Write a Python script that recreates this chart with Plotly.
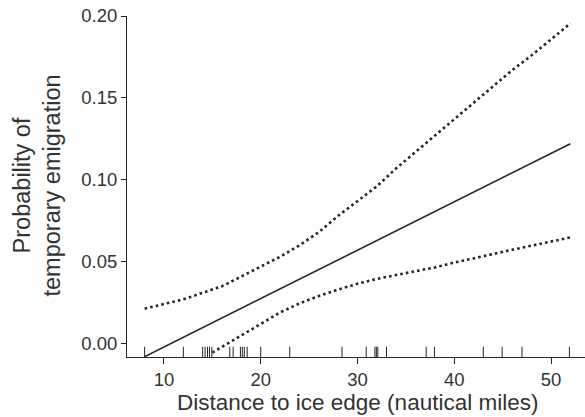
import plotly.graph_objects as go

# Fitted line (solid)
fit_x = [8, 52]
fit_y = [-0.008, 0.122]

# Upper confidence band (dotted)
upper_x = [8, 10, 12, 14, 16, 18, 20, 22, 24, 26, 28, 30, 32, 34, 36, 38, 40, 42, 44, 46, 48, 50, 52]
upper_y = [0.0213, 0.024, 0.027, 0.031, 0.035, 0.041, 0.047, 0.053, 0.060, 0.068, 0.078, 0.087,
           0.096, 0.107, 0.117, 0.127, 0.137, 0.147, 0.157, 0.167, 0.176, 0.186, 0.1955]

# Lower confidence band (dotted)
lower_x = [15, 16, 17, 18, 19, 20, 22, 24, 26, 28, 30, 32, 34, 36, 38, 40, 42, 44, 46, 48, 50, 52]
lower_y = [-0.0055, -0.002, 0.0015, 0.005, 0.0085, 0.012, 0.019, 0.0245, 0.029, 0.033, 0.0365,
           0.0395, 0.042, 0.0442, 0.0465, 0.0495, 0.052, 0.0548, 0.0573, 0.0598, 0.0622, 0.0648]

# Rug of observed distances
rug_x = [8, 12, 14.0, 14.25, 14.5, 14.7, 14.95, 16.8, 17.15, 17.9, 18.1, 18.3, 18.6, 20, 23,
         28.4, 30.9, 31.8, 31.95, 32.1, 33, 37.1, 37.95, 43, 44.95, 47, 51.9]

x_ticks = [10, 20, 30, 40, 50]
y_ticks = [0.00, 0.05, 0.10, 0.15, 0.20]
y_ticklabels = ["0.00", "0.05", "0.10", "0.15", "0.20"]

x_title = "Distance to ice edge (nautical miles)"
y_title = "Probability of<br>temporary emigration"

ink = "#262626"
txt = "#333333"
font_family = "Liberation Sans, Arial, sans-serif"

fig = go.Figure()
fig.add_trace(go.Scatter(x=fit_x, y=fit_y, mode="lines",
                         line=dict(color=ink, width=1.6), showlegend=False))
fig.add_trace(go.Scatter(x=upper_x, y=upper_y, mode="lines",
                         line=dict(color=ink, width=2.6, dash="2.6px,3.1px"), showlegend=False))
fig.add_trace(go.Scatter(x=lower_x, y=lower_y, mode="lines",
                         line=dict(color=ink, width=2.6, dash="2.6px,3.1px"), showlegend=False))

shapes = [dict(type="line", xref="x", yref="y domain", x0=v, x1=v, y0=0, y1=0.03,
               line=dict(color=ink, width=1)) for v in rug_x]

annotations = [
    dict(text=x_title, xref="paper", yref="paper", x=0.503, y=(356.7 - 402.5) / 340.7,
         xanchor="center", yanchor="middle", showarrow=False,
         font=dict(size=22.5, color=txt)),
    dict(text=y_title, xref="paper", yref="paper", x=(37.5 - 127) / 458, y=0.5015,
         xanchor="center", yanchor="middle", showarrow=False, textangle=-90,
         font=dict(size=23.5, color=txt)),
]

fig.update_layout(
    width=585, height=417,
    margin=dict(l=127, r=0, t=16, b=60.3, autoexpand=False),
    paper_bgcolor="white", plot_bgcolor="white",
    font=dict(family=font_family, color=txt, size=18),
    shapes=shapes,
    annotations=annotations,
    hovermode=False,
    xaxis=dict(range=[6.18, 53.51], tickvals=x_ticks, ticks="outside", ticklen=6,
               tickcolor=ink, tickwidth=1, showline=True, linecolor=ink, linewidth=1,
               showgrid=False, zeroline=False, automargin=False,
               ticklabeloverflow="allow",
               tickfont=dict(size=18.5, color=txt)),
    yaxis=dict(range=[-0.0082, 0.2], tickvals=y_ticks, ticktext=y_ticklabels, ticks="outside",
               ticklen=5, tickcolor=ink, tickwidth=1, showline=True, linecolor=ink, linewidth=1,
               showgrid=False, zeroline=False, automargin=False,
               ticklabeloverflow="allow",
               tickfont=dict(size=18.5, color=txt)),
)

# Remove the default 8px page margin so the 585x417 figure fills the window exactly.
fig.write_html("out.html", config={"displayModeBar": False},
               post_script="document.body.style.margin='0';")
